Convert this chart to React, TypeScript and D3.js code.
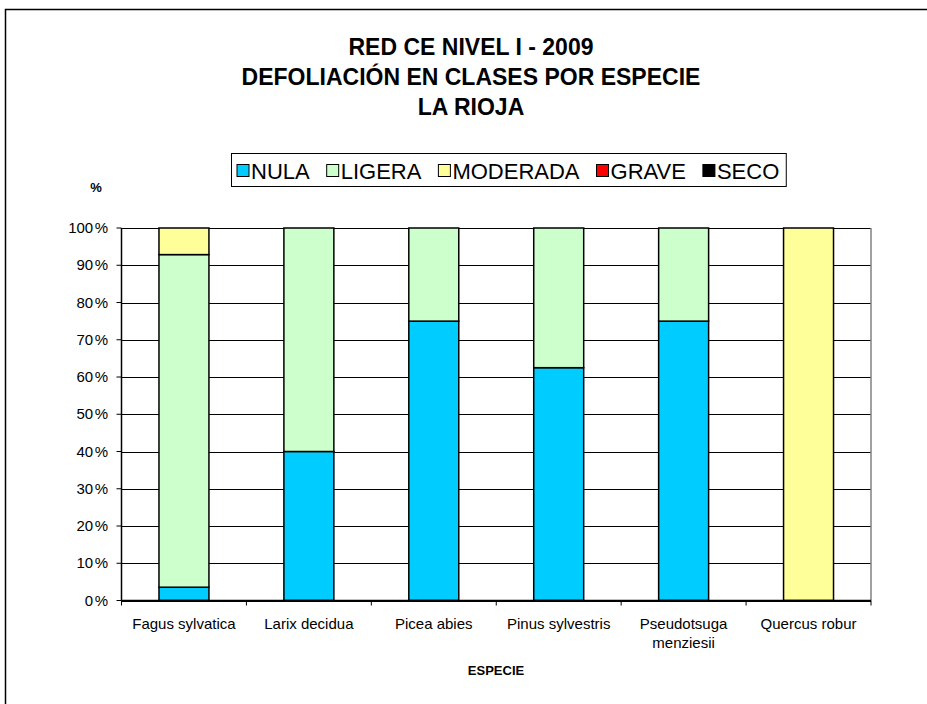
import React, { useEffect, useRef } from "react";
import * as d3 from "d3";

const categories = ["Fagus sylvatica", "Larix decidua", "Picea abies", "Pinus sylvestris", "Pseudotsuga menziesii", "Quercus robur"];
const categoryLines = [["Fagus sylvatica"], ["Larix decidua"], ["Picea abies"], ["Pinus sylvestris"], ["Pseudotsuga", "menziesii"], ["Quercus robur"]];
const seriesNames = ["NULA", "LIGERA", "MODERADA", "GRAVE", "SECO"];
const seriesColors = ["#00CCFF", "#CCFFCC", "#FFFF99", "#FF0000", "#000000"];
const nula = [3.57, 40, 75, 62.5, 75, 0];
const ligera = [89.29, 60, 25, 37.5, 25, 0];
const moderada = [7.14, 0, 0, 0, 0, 100];
const grave = [0, 0, 0, 0, 0, 0];
const seco = [0, 0, 0, 0, 0, 0];
const yTicks = [0, 10, 20, 30, 40, 50, 60, 70, 80, 90, 100];
const titleLines = ["RED CE NIVEL I - 2009", "DEFOLIACIÓN EN CLASES POR ESPECIE", "LA RIOJA"];

const FONT = "'Liberation Sans', Arial, sans-serif";

export default function App() {
  const legendRef = useRef<SVGGElement>(null);

  const left = 121.5, right = 871, top = 228, bottom = 600.5;
  const x = d3.scaleBand<string>().domain(categories).range([left, right]).paddingInner(0.6).paddingOuter(0.3);
  const xOuter = d3.scaleBand<string>().domain(categories).range([left, right]);
  const y = d3.scaleLinear().domain([0, 100]).range([bottom, top]);

  const table = categories.map((c, i) => ({
    cat: c,
    NULA: nula[i], LIGERA: ligera[i], MODERADA: moderada[i], GRAVE: grave[i], SECO: seco[i],
  }));
  const stacked = d3.stack<any>().keys(seriesNames)(table);

  useEffect(() => {
    const g = d3.select(legendRef.current);
    if (!g.node()) return;
    g.selectAll("*").remove();
    const boxX = 231.5, boxY = 153.5, boxH = 33;
    const gap = 17;
    let cx = boxX + 5.5;
    seriesNames.forEach((name, i) => {
      g.append("rect").attr("x", cx).attr("y", boxY + 11).attr("width", 12).attr("height", 12)
        .attr("fill", seriesColors[i]).attr("stroke", "#000").attr("stroke-width", 1);
      const t = g.append("text").attr("x", cx + 14).attr("y", boxY + 25).attr("font-family", FONT)
        .attr("font-size", 22).attr("fill", "#000").text(name);
      const w = (t.node() as SVGTextElement).getComputedTextLength();
      cx = cx + 14 + w + gap;
    });
    g.insert("rect", ":first-child").attr("x", boxX).attr("y", boxY).attr("width", cx - gap - boxX + 7).attr("height", boxH)
      .attr("fill", "#fff").attr("stroke", "#000").attr("stroke-width", 1);
  }, []);

  return (
    <svg width={927} height={704} style={{ position: "absolute", left: 0, top: 0, background: "#fff" }}>
      <rect x={5.5} y={9.5} width={1000} height={1000} fill="#fff" stroke="#000" strokeWidth={1.5} />
      {titleLines.map((t, i) => (
        <text key={i} x={471} y={55 + i * 30} textAnchor="middle" fontFamily={FONT} fontWeight="bold" fontSize={23}>{t}</text>
      ))}
      <g ref={legendRef} />
      <text x={96} y={192} textAnchor="middle" fontFamily={FONT} fontWeight="bold" fontSize={13}>%</text>

      {/* gridlines */}
      {yTicks.map((t) => (
        <line key={"g" + t} x1={left} x2={right} y1={Math.round(y(t)) + 0.5} y2={Math.round(y(t)) + 0.5} stroke="#000" strokeWidth={1} />
      ))}
      <line x1={right} x2={right} y1={top} y2={bottom} stroke="#808080" strokeWidth={1.5} />

      {/* bars */}
      {stacked.map((s, si) => (
        <g key={s.key}>
          {s.map((d, i) => d[1] - d[0] > 0 ? (
            <rect key={i} x={x(categories[i])!} width={x.bandwidth()} y={y(d[1])} height={y(d[0]) - y(d[1])}
              fill={seriesColors[si]} stroke="#000" strokeWidth={1.5} />
          ) : null)}
        </g>
      ))}

      {/* axes */}
      <line x1={left} x2={left} y1={top} y2={bottom} stroke="#000" strokeWidth={1.5} />
      <line x1={left} x2={right} y1={bottom} y2={bottom} stroke="#000" strokeWidth={1.5} />
      {yTicks.map((t) => (
        <g key={"t" + t}>
          <line x1={left - 5} x2={left} y1={y(t)} y2={y(t)} stroke="#000" strokeWidth={1} />
          <text x={108} y={y(t) + 5} textAnchor="end" fontFamily={FONT} fontSize={15}>{t}<tspan dx={1.5}>%</tspan></text>
        </g>
      ))}
      {categories.map((c, i) => (
        <line key={"xt" + i} x1={xOuter(c)!} x2={xOuter(c)!} y1={bottom} y2={bottom + 5} stroke="#000" strokeWidth={1} />
      ))}
      <line x1={right} x2={right} y1={bottom} y2={bottom + 5} stroke="#000" strokeWidth={1} />
      {categories.map((c, i) => (
        <text key={"xl" + i} x={xOuter(c)! + xOuter.bandwidth() / 2} y={629} textAnchor="middle" fontFamily={FONT} fontSize={15}>
          {categoryLines[i].map((l, j) => (
            <tspan key={j} x={xOuter(c)! + xOuter.bandwidth() / 2} dy={j === 0 ? 0 : 19}>{l}</tspan>
          ))}
        </text>
      ))}
      <text x={496} y={675} textAnchor="middle" fontFamily={FONT} fontWeight="bold" fontSize={13}>ESPECIE</text>
    </svg>
  );
}
